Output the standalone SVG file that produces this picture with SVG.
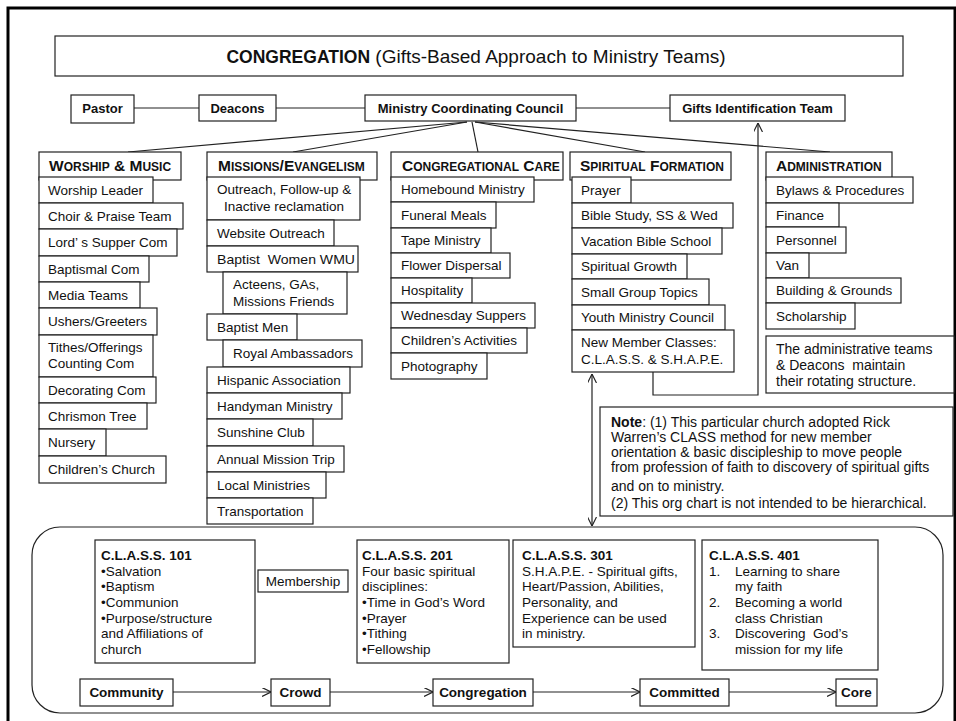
<svg xmlns="http://www.w3.org/2000/svg" width="956" height="721" viewBox="0 0 956 721">
<defs>
<style>
text{font-family:"Liberation Sans",Arial,sans-serif;fill:#111;}
.b{fill:#fff;stroke:#222;stroke-width:1.2;}
.bn{fill:none;stroke:#222;stroke-width:1.2;}
.it{font-size:13.5px;}
.tb{font-size:13px;font-weight:bold;text-anchor:middle;}
.hdr{font-size:15.5px;font-weight:bold;}
.sm{font-size:12px;}
.nt{font-size:14px;}
.cl{font-size:13.5px;}
.clb{font-size:13.5px;font-weight:bold;}
.fb{font-size:13.5px;font-weight:bold;text-anchor:middle;}
.ln{fill:none;stroke:#222;stroke-width:1.2;}
</style>
<marker id="ah" viewBox="0 0 10 10" refX="10" refY="5" markerWidth="9" markerHeight="9" markerUnits="userSpaceOnUse" orient="auto-start-reverse">
<path d="M0,0 L10,5 L0,10" fill="none" stroke="#222" stroke-width="1.3"/>
</marker>
</defs>
<rect x="8" y="8" width="947" height="740" fill="#fff" stroke="#000" stroke-width="3"/>

<g id="title">
<rect class="b" x="55" y="36" width="848" height="40"/>
<text x="476" y="63" text-anchor="middle"><tspan font-weight="bold" font-size="17.5">CONGREGATION</tspan><tspan font-size="19">  (Gifts-Based Approach to Ministry Teams)</tspan></text>
</g>

<g id="connectors">
<line class="ln" x1="134" y1="108" x2="199" y2="108"/>
<line class="ln" x1="276" y1="108" x2="365" y2="108"/>
<line class="ln" x1="576" y1="108" x2="670" y2="108"/>
<line class="ln" x1="467" y1="122" x2="128" y2="152"/>
<line class="ln" x1="467" y1="122" x2="293" y2="152"/>
<line class="ln" x1="472" y1="122" x2="478" y2="152"/>
<line class="ln" x1="475" y1="122" x2="645" y2="152"/>
<line class="ln" x1="475" y1="122" x2="830" y2="152"/>
<polyline class="ln" points="653,372 653,395 758,395 758,123" marker-end="url(#ah)"/>
<line class="ln" x1="592" y1="374" x2="592" y2="526" marker-start="url(#ah)" marker-end="url(#ah)"/>
<line class="ln" x1="173" y1="692" x2="271" y2="692" marker-end="url(#ah)"/>
<line class="ln" x1="330" y1="692" x2="433" y2="692" marker-end="url(#ah)"/>
<line class="ln" x1="533" y1="692" x2="640" y2="692" marker-end="url(#ah)"/>
<line class="ln" x1="729" y1="692" x2="836" y2="692" marker-end="url(#ah)"/>
</g>

<g id="pastor"><rect class="b" x="71" y="95" width="63" height="28"/><text class="tb" x="102.5" y="113">Pastor</text></g>
<g id="deacons"><rect class="b" x="199" y="95" width="77" height="26"/><text class="tb" x="237.5" y="113">Deacons</text></g>
<g id="mcc"><rect class="b" x="365" y="95" width="211" height="26"/><text class="tb" x="470.5" y="113">Ministry Coordinating Council</text></g>
<g id="gifts"><rect class="b" x="670" y="95" width="175" height="26"/><text class="tb" x="757.5" y="113">Gifts Identification Team</text></g>

<g id="worship">
<rect class="b" x="39" y="152" width="142" height="28"/>
<text class="hdr" x="49" y="171">W<tspan class="sm">ORSHIP</tspan> &amp; M<tspan class="sm">USIC</tspan></text>
<rect class="b" x="39" y="177" width="114" height="26"/><text class="it" x="48" y="195">Worship Leader</text>
<rect class="b" x="39" y="203" width="144" height="26"/><text class="it" x="48" y="221">Choir &amp; Praise Team</text>
<rect class="b" x="39" y="229" width="138" height="27"/><text class="it" x="48" y="247">Lord’ s Supper Com</text>
<rect class="b" x="39" y="256" width="110" height="26"/><text class="it" x="48" y="274">Baptismal Com</text>
<rect class="b" x="39" y="282" width="101" height="26"/><text class="it" x="48" y="300">Media Teams</text>
<rect class="b" x="39" y="308" width="118" height="27"/><text class="it" x="48" y="326">Ushers/Greeters</text>
<rect class="b" x="39" y="335" width="114" height="42"/><text class="it" x="48" y="352">Tithes/Offerings</text><text class="it" x="48" y="368">Counting Com</text>
<rect class="b" x="39" y="377" width="117" height="26"/><text class="it" x="48" y="395">Decorating Com</text>
<rect class="b" x="39" y="403" width="108" height="26"/><text class="it" x="48" y="421">Chrismon Tree</text>
<rect class="b" x="39" y="429" width="67" height="27"/><text class="it" x="48" y="447">Nursery</text>
<rect class="b" x="39" y="456" width="127" height="27"/><text class="it" x="48" y="474">Children’s Church</text>
</g>

<g id="missions">
<rect class="b" x="207" y="152" width="170" height="28"/>
<text class="hdr" x="218" y="171">M<tspan class="sm">ISSIONS</tspan>/E<tspan class="sm">VANGELISM</tspan></text>
<rect class="b" x="207" y="177" width="153" height="43"/><text class="it" x="217" y="194">Outreach, Follow-up &amp;</text><text class="it" x="224" y="211">Inactive reclamation</text>
<rect class="b" x="207" y="220" width="127" height="26"/><text class="it" x="217" y="238">Website Outreach</text>
<rect class="b" x="207" y="246" width="151" height="26"/><text class="it" x="217" y="264" xml:space="preserve" textLength="138" lengthAdjust="spacingAndGlyphs">Baptist  Women WMU</text>
<rect class="b" x="223" y="272" width="124" height="42"/><text class="it" x="233" y="289">Acteens, GAs,</text><text class="it" x="233" y="306">Missions Friends</text>
<rect class="b" x="207" y="314" width="90" height="26"/><text class="it" x="217" y="332">Baptist Men</text>
<rect class="b" x="223" y="340" width="139" height="27"/><text class="it" x="233" y="358">Royal Ambassadors</text>
<rect class="b" x="207" y="367" width="143" height="26"/><text class="it" x="217" y="385">Hispanic Association</text>
<rect class="b" x="207" y="393" width="135" height="26"/><text class="it" x="217" y="411">Handyman Ministry</text>
<rect class="b" x="207" y="419" width="106" height="27"/><text class="it" x="217" y="437">Sunshine Club</text>
<rect class="b" x="207" y="446" width="137" height="26"/><text class="it" x="217" y="464">Annual Mission Trip</text>
<rect class="b" x="207" y="472" width="119" height="26"/><text class="it" x="217" y="490">Local Ministries</text>
<rect class="b" x="207" y="498" width="106" height="26"/><text class="it" x="217" y="516">Transportation</text>
</g>

<g id="care">
<rect class="b" x="391" y="152" width="172" height="28"/>
<text class="hdr" x="402" y="171">C<tspan class="sm">ONGREGATIONAL</tspan> C<tspan class="sm">ARE</tspan></text>
<rect class="b" x="391" y="177" width="143" height="25"/><text class="it" x="401" y="194">Homebound Ministry</text>
<rect class="b" x="391" y="202" width="105" height="26"/><text class="it" x="401" y="220">Funeral Meals</text>
<rect class="b" x="391" y="228" width="100" height="25"/><text class="it" x="401" y="245">Tape Ministry</text>
<rect class="b" x="391" y="253" width="119" height="25"/><text class="it" x="401" y="270">Flower Dispersal</text>
<rect class="b" x="391" y="278" width="81" height="25"/><text class="it" x="401" y="295">Hospitality</text>
<rect class="b" x="391" y="303" width="144" height="25"/><text class="it" x="401" y="320">Wednesday Suppers</text>
<rect class="b" x="391" y="328" width="136" height="25"/><text class="it" x="401" y="345">Children’s Activities</text>
<rect class="b" x="391" y="353" width="96" height="26"/><text class="it" x="401" y="371">Photography</text>
</g>

<g id="formation">
<rect class="b" x="570" y="152" width="161" height="28"/>
<text class="hdr" x="580" y="171">S<tspan class="sm">PIRITUAL</tspan> F<tspan class="sm">ORMATION</tspan></text>
<rect class="b" x="572" y="177" width="59" height="26"/><text class="it" x="581" y="195">Prayer</text>
<rect class="b" x="572" y="203" width="161" height="25"/><text class="it" x="581" y="220">Bible Study, SS &amp; Wed</text>
<rect class="b" x="572" y="228" width="150" height="26"/><text class="it" x="581" y="246">Vacation Bible School</text>
<rect class="b" x="572" y="254" width="115" height="25"/><text class="it" x="581" y="271">Spiritual Growth</text>
<rect class="b" x="572" y="279" width="137" height="26"/><text class="it" x="581" y="297">Small Group Topics</text>
<rect class="b" x="572" y="305" width="153" height="25"/><text class="it" x="581" y="322">Youth Ministry Council</text>
<rect class="b" x="572" y="330" width="162" height="42"/><text class="it" x="581" y="347">New Member Classes:</text><text class="it" x="581" y="364">C.L.A.S.S. &amp; S.H.A.P.E.</text>
</g>

<g id="administration">
<rect class="b" x="766" y="152" width="126" height="28"/>
<text class="hdr" x="776" y="171">A<tspan class="sm">DMINISTRATION</tspan></text>
<rect class="b" x="766" y="177" width="147" height="26"/><text class="it" x="776" y="195">Bylaws &amp; Procedures</text>
<rect class="b" x="766" y="203" width="73" height="24"/><text class="it" x="776" y="220">Finance</text>
<rect class="b" x="766" y="227" width="80" height="26"/><text class="it" x="776" y="245">Personnel</text>
<rect class="b" x="766" y="253" width="43" height="25"/><text class="it" x="776" y="270">Van</text>
<rect class="b" x="766" y="278" width="135" height="25"/><text class="it" x="776" y="295">Building &amp; Grounds</text>
<rect class="b" x="766" y="303" width="89" height="26"/><text class="it" x="776" y="321">Scholarship</text>
</g>

<g id="admin-note">
<rect class="b" x="766" y="336" width="188" height="57"/>
<text class="nt" x="776" y="354">The administrative teams</text>
<text class="nt" x="776" y="370" xml:space="preserve">&amp; Deacons  maintain</text>
<text class="nt" x="776" y="386">their rotating structure.</text>
</g>

<g id="note">
<rect class="b" x="600" y="407" width="353" height="109"/>
<text class="nt" x="611" y="427"><tspan font-weight="bold">Note</tspan>: (1) This particular church adopted Rick</text>
<text class="nt" x="611" y="442">Warren’s CLASS method for new member</text>
<text class="nt" x="611" y="457">orientation &amp; basic discipleship to move people</text>
<text class="nt" x="611" y="472">from profession of faith to discovery of spiritual gifts</text>
<text class="nt" x="611" y="491">and on to ministry.</text>
<text class="nt" x="611" y="508">(2) This org chart is not intended to be hierarchical.</text>
</g>

<g id="pathway">
<rect class="bn" x="32" y="527" width="911" height="186" rx="28" ry="28"/>
</g>

<g id="class101">
<rect class="b" x="95" y="540" width="160" height="123"/>
<text class="clb" x="101" y="560">C.L.A.S.S. 101</text>
<text class="cl" x="101" y="575.5">•Salvation</text>
<text class="cl" x="101" y="591">•Baptism</text>
<text class="cl" x="101" y="607">•Communion</text>
<text class="cl" x="101" y="622.5">•Purpose/structure</text>
<text class="cl" x="101" y="638">and Affiliations of</text>
<text class="cl" x="101" y="654">church</text>
</g>

<g id="membership"><rect class="b" x="258" y="570" width="90" height="22"/><text class="cl" x="303" y="586" text-anchor="middle">Membership</text></g>

<g id="class201">
<rect class="b" x="357" y="540" width="152" height="123"/>
<text class="clb" x="362" y="560">C.L.A.S.S. 201</text>
<text class="cl" x="362" y="575.5">Four basic spiritual</text>
<text class="cl" x="362" y="591">disciplines:</text>
<text class="cl" x="362" y="607">•Time in God’s Word</text>
<text class="cl" x="362" y="622.5">•Prayer</text>
<text class="cl" x="362" y="638">•Tithing</text>
<text class="cl" x="362" y="654">•Fellowship</text>
</g>

<g id="class301">
<rect class="b" x="513" y="540" width="182" height="107"/>
<text class="clb" x="522" y="560">C.L.A.S.S. 301</text>
<text class="cl" x="522" y="575.5">S.H.A.P.E. - Spiritual gifts,</text>
<text class="cl" x="522" y="591">Heart/Passion, Abilities,</text>
<text class="cl" x="522" y="607">Personality, and</text>
<text class="cl" x="522" y="622.5">Experience can be used</text>
<text class="cl" x="522" y="638">in ministry.</text>
</g>

<g id="class401">
<rect class="b" x="702" y="540" width="176" height="130"/>
<text class="clb" x="709" y="560">C.L.A.S.S. 401</text>
<text class="cl" x="709" y="575.5">1.</text><text class="cl" x="735" y="575.5">Learning to share</text>
<text class="cl" x="735" y="591">my faith</text>
<text class="cl" x="709" y="607">2.</text><text class="cl" x="735" y="607">Becoming a world</text>
<text class="cl" x="735" y="622.5">class Christian</text>
<text class="cl" x="709" y="638">3.</text><text class="cl" x="735" y="638" xml:space="preserve">Discovering  God’s</text>
<text class="cl" x="735" y="654">mission for my life</text>
</g>

<g id="community"><rect class="b" x="80" y="679" width="93" height="27"/><text class="fb" x="126.5" y="697">Community</text></g>
<g id="crowd"><rect class="b" x="271" y="679" width="59" height="27"/><text class="fb" x="300.5" y="697">Crowd</text></g>
<g id="congregation"><rect class="b" x="433" y="679" width="100" height="27"/><text class="fb" x="483" y="697">Congregation</text></g>
<g id="committed"><rect class="b" x="640" y="679" width="89" height="27"/><text class="fb" x="684.5" y="697">Committed</text></g>
<g id="core"><rect class="b" x="836" y="679" width="41" height="27"/><text class="fb" x="856.5" y="697">Core</text></g>
</svg>
